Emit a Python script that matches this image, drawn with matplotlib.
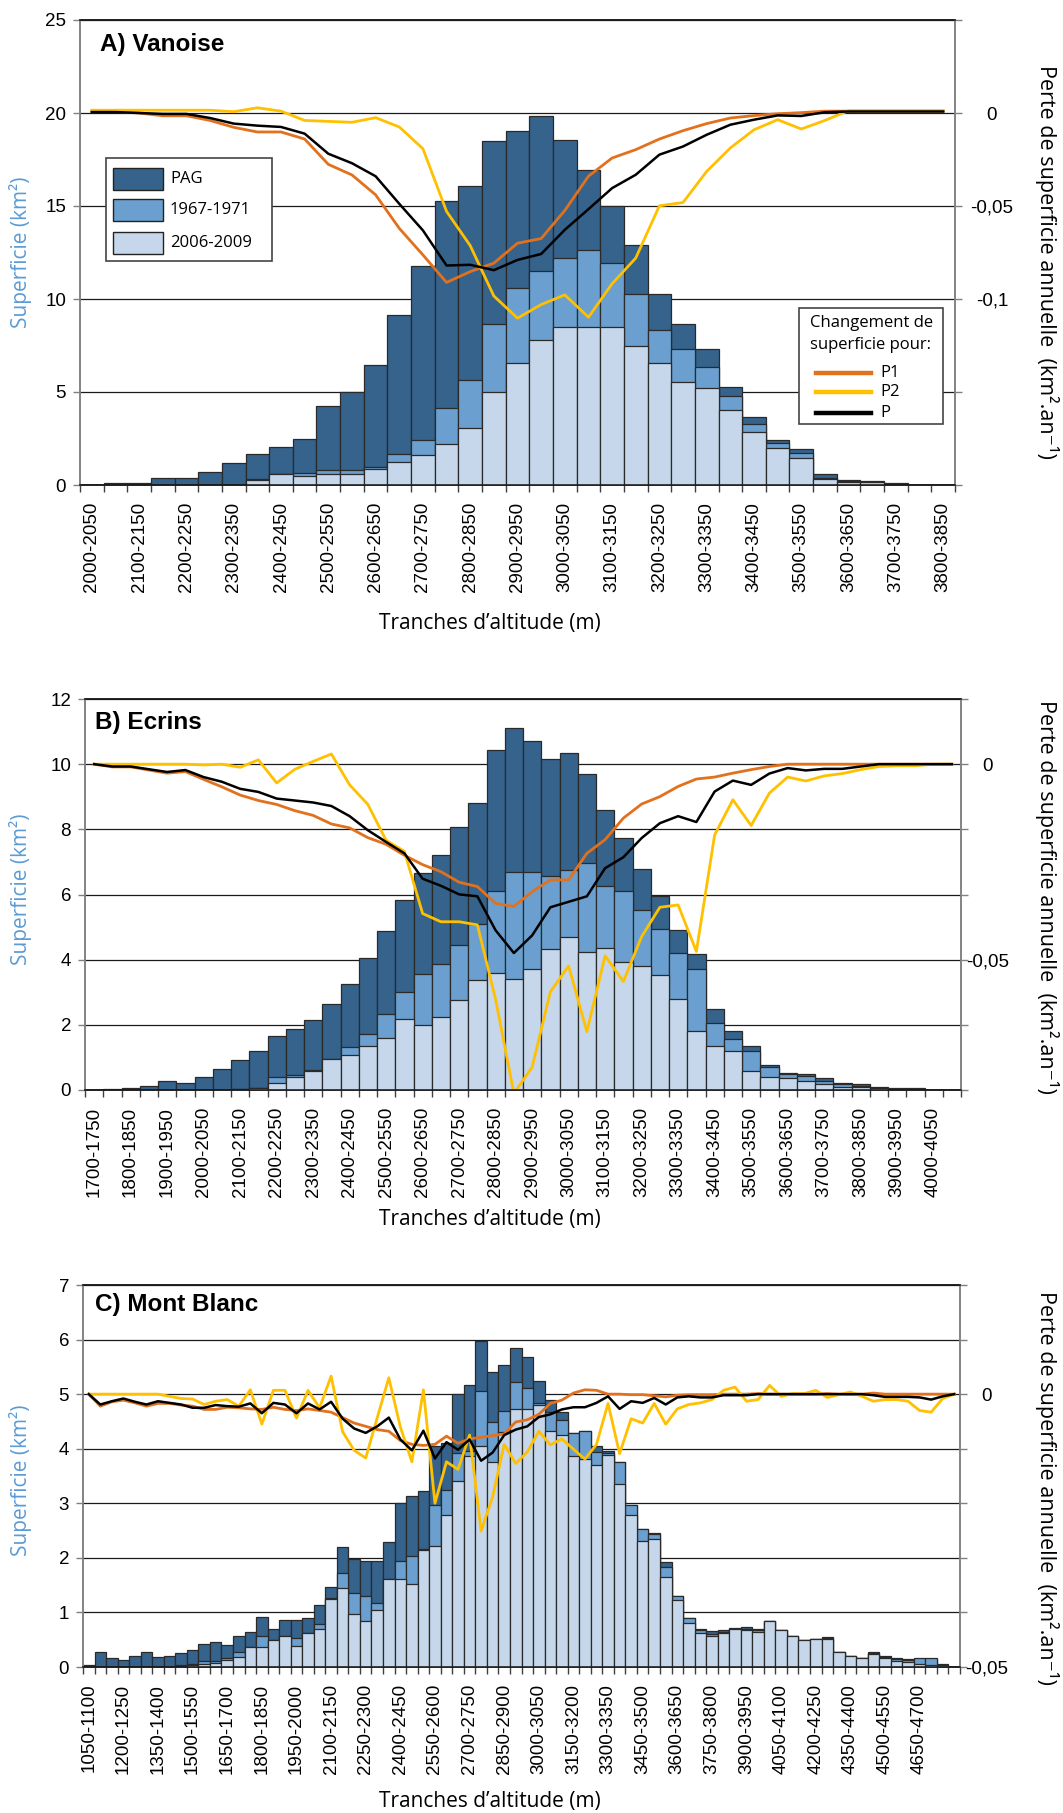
import numpy as np
import matplotlib
matplotlib.use("Agg")
import matplotlib.pyplot as plt
from matplotlib.patches import Rectangle
from matplotlib.lines import Line2D

plt.rcParams['font.family'] = ['Liberation Sans', 'DejaVu Sans']

# ---------------- categories (50 m altitude bands) ----------------
CAT_A = [f"{a}-{a + 50}" for a in range(2000, 3850, 50)]   # 37 bands
CAT_B = [f"{a}-{a + 50}" for a in range(1700, 4100, 50)]   # 48 bands
CAT_C = [f"{a}-{a + 50}" for a in range(1050, 4850, 50)]   # 76 bands

# ---------------- A) Vanoise : glacier area (km2) ----------------
PAG_A = [0, 0.1, 0.1, 0.4, 0.4, 0.7, 1.17, 1.65, 2.03, 2.49, 4.23, 5.0, 6.44, 9.15, 11.75, 15.28, 16.05,
         18.48, 19.05, 19.82, 18.57, 16.91, 15.0, 12.9, 10.28, 8.66, 7.3, 5.29, 3.64, 2.4, 1.92, 0.57,
         0.27, 0.22, 0.1, 0, 0]
MID_A = [0, 0, 0, 0, 0, 0, 0, 0.3, 0.6, 0.66, 0.79, 0.79, 0.95, 1.65, 2.4, 4.13, 5.67, 8.66, 10.58,
         11.53, 12.2, 12.61, 11.93, 10.28, 8.36, 7.3, 6.33, 4.81, 3.26, 2.24, 1.74, 0.4, 0.22, 0.18,
         0.08, 0, 0]
LIGHT_A = [0, 0, 0, 0, 0, 0, 0, 0.27, 0.57, 0.48, 0.57, 0.57, 0.86, 1.24, 1.61, 2.2, 3.07, 5.0, 6.55,
           7.78, 8.52, 8.52, 8.52, 7.5, 6.55, 5.56, 5.2, 4.04, 2.87, 2.0, 1.43, 0.34, 0.16, 0.15, 0.06,
           0, 0]
# annual area loss (km2.an-1)
P1_A = [0.0008, 0.0008, 0.0, -0.0015, -0.0015, -0.004, -0.0077, -0.0102, -0.0102, -0.014,
        -0.0276, -0.0333, -0.044, -0.062, -0.0763, -0.0911, -0.0853, -0.0807, -0.07, -0.0675,
        -0.0524, -0.034, -0.0242, -0.0197, -0.014, -0.0095, -0.0057, -0.0027, -0.0014, -0.0004,
        0.0002, 0.001, 0.001, 0.001, 0.001, 0.001, 0.001]
P2_A = [0.0015, 0.0015, 0.0015, 0.0015, 0.0015, 0.0015, 0.0007, 0.0028, 0.001, -0.004,
        -0.0045, -0.005, -0.0025, -0.0075, -0.0192, -0.0529, -0.0713, -0.0984, -0.1103, -0.103,
        -0.0978, -0.1098, -0.0918, -0.078, -0.0499, -0.0481, -0.0314, -0.0188, -0.009, -0.0036,
        -0.0086, -0.004, 0.0013, 0.0013, 0.0013, 0.0013, 0.0013]
P_A = [0.0005, 0.0005, 0, -0.0005, -0.0005, -0.0027, -0.0057, -0.0068, -0.0075, -0.0111,
       -0.0219, -0.027, -0.034, -0.0488, -0.0631, -0.082, -0.0816, -0.0845, -0.079, -0.0758,
       -0.0628, -0.0517, -0.0404, -0.0332, -0.0224, -0.018, -0.0117, -0.0063, -0.0036, -0.0013,
       -0.0016, 0.0004, 0.0008, 0.0008, 0.0008, 0.0008, 0.0008]

# ---------------- B) Ecrins ----------------
PAG_B = [0, 0.03, 0.05, 0.13, 0.28, 0.23, 0.41, 0.64, 0.93, 1.19,
         1.65, 1.88, 2.16, 2.65, 3.26, 4.04, 4.88, 5.83, 6.66, 7.22,
         8.08, 8.82, 10.43, 11.11, 10.7, 10.16, 10.34, 9.7, 8.6, 7.73,
         6.78, 5.94, 4.91, 4.17, 2.48, 1.82, 1.36, 0.77, 0.53, 0.49,
         0.36, 0.23, 0.17, 0.1, 0.05, 0.05, 0, 0]
MID_B = [0, 0, 0, 0, 0, 0, 0, 0, 0.02, 0.07,
         0.41, 0.46, 0.62, 0.95, 1.32, 1.73, 2.33, 3.01, 3.57, 3.88,
         4.44, 5.09, 6.11, 6.7, 6.7, 6.58, 6.76, 6.96, 6.27, 6.12,
         5.53, 4.93, 4.2, 3.71, 2.07, 1.56, 1.2, 0.72, 0.48, 0.44,
         0.29, 0.17, 0.13, 0.07, 0.03, 0.03, 0, 0]
LIGHT_B = [0, 0, 0, 0, 0, 0, 0, 0, 0.02, 0.07,
           0.21, 0.39, 0.58, 0.95, 1.08, 1.36, 1.59, 2.19, 2.0, 2.23,
           2.75, 3.39, 3.59, 3.42, 3.7, 4.34, 4.71, 4.25, 4.35, 3.94,
           3.81, 3.53, 2.78, 1.82, 1.36, 1.2, 0.59, 0.41, 0.36, 0.28,
           0.17, 0.1, 0.08, 0.05, 0.02, 0.02, 0, 0]
P1_B = [0, -0.0007, -0.0007, -0.0015, -0.0023, -0.0019, -0.0039, -0.0058, -0.0079, -0.0093,
        -0.0103, -0.0119, -0.0131, -0.0153, -0.0163, -0.0188, -0.0205, -0.0233, -0.0257, -0.0275,
        -0.0302, -0.0313, -0.0356, -0.0364, -0.0326, -0.0296, -0.0296, -0.0228, -0.0193, -0.0138,
        -0.0102, -0.0083, -0.0057, -0.0038, -0.0033, -0.0023, -0.0014, -0.0006, 0, 0,
        0, 0, 0, 0, 0, 0, 0, 0]
P2_B = [0, 0, 0, 0, 0, 0, -0.0002, 0, -0.0008, 0.0011,
        -0.0048, -0.0013, 0.0007, 0.0026, -0.0053, -0.0103, -0.0195, -0.0223, -0.0382, -0.0403,
        -0.0403, -0.0411, -0.0602, -0.0842, -0.0775, -0.0582, -0.0516, -0.0684, -0.049, -0.0556,
        -0.0441, -0.0366, -0.036, -0.0479, -0.0181, -0.0091, -0.0157, -0.0074, -0.0033, -0.0043,
        -0.003, -0.0024, -0.0014, -0.0006, -0.0004, -0.0004, 0, 0]
P_B = [0, -0.0006, -0.0006, -0.0013, -0.002, -0.0015, -0.0033, -0.0045, -0.0063, -0.0071,
       -0.0088, -0.0093, -0.0098, -0.0107, -0.0133, -0.0169, -0.0199, -0.0228, -0.0293, -0.0311,
       -0.0333, -0.0338, -0.0425, -0.0483, -0.0438, -0.0366, -0.0352, -0.0338, -0.0266, -0.0238,
       -0.0189, -0.0151, -0.0133, -0.0148, -0.007, -0.0042, -0.0053, -0.0024, -0.001, -0.0016,
       -0.0012, -0.0012, -0.0006, 0, 0, 0, 0, 0]

# ---------------- C) Mont Blanc ----------------
PAG_C = [0.03, 0.27, 0.16, 0.13, 0.21, 0.27, 0.18, 0.21, 0.26, 0.32,
         0.43, 0.46, 0.41, 0.57, 0.65, 0.92, 0.70, 0.87, 0.87, 0.90,
         1.14, 1.47, 2.19, 1.97, 1.94, 1.94, 2.29, 3.00, 3.13, 3.23,
         4.05, 4.10, 5.01, 5.16, 5.98, 5.41, 5.54, 5.85, 5.68, 5.25,
         4.90, 4.67, 4.28, 4.33, 4.05, 3.95, 3.76, 2.96, 2.52, 2.46,
         1.92, 1.30, 0.90, 0.70, 0.66, 0.68, 0.71, 0.73, 0.70, 0.84,
         0.68, 0.57, 0.49, 0.52, 0.55, 0.27, 0.20, 0.17, 0.27, 0.20,
         0.16, 0.14, 0.15, 0.15, 0.06, 0.0]
MID_C = [0, 0, 0, 0, 0, 0, 0, 0, 0.03, 0.06,
         0.11, 0.11, 0.17, 0.27, 0.37, 0.56, 0.49, 0.56, 0.54, 0.62,
         0.79, 1.26, 1.72, 1.36, 1.30, 1.17, 1.62, 1.94, 2.03, 2.16,
         2.97, 3.24, 3.92, 3.96, 5.06, 4.49, 4.70, 5.22, 5.11, 4.83,
         4.67, 4.53, 4.28, 4.33, 3.94, 3.92, 3.76, 2.96, 2.52, 2.43,
         1.84, 1.30, 0.90, 0.67, 0.61, 0.64, 0.70, 0.70, 0.67, 0.84,
         0.68, 0.57, 0.49, 0.52, 0.53, 0.27, 0.20, 0.17, 0.25, 0.18,
         0.14, 0.12, 0.16, 0.16, 0.03, 0.0]
LIGHT_C = [0, 0, 0, 0, 0, 0, 0, 0, 0.02, 0.04,
           0.06, 0.07, 0.13, 0.18, 0.37, 0.37, 0.49, 0.56, 0.38, 0.62,
           0.70, 1.24, 1.45, 0.98, 0.84, 1.05, 1.62, 1.62, 1.53, 2.15,
           2.21, 2.78, 3.41, 3.86, 4.05, 3.76, 4.30, 4.73, 4.73, 4.81,
           4.33, 4.25, 3.87, 3.81, 3.71, 3.89, 3.35, 2.79, 2.30, 2.35,
           1.65, 1.22, 0.81, 0.62, 0.57, 0.62, 0.70, 0.68, 0.65, 0.84,
           0.68, 0.57, 0.49, 0.52, 0.52, 0.27, 0.20, 0.17, 0.24, 0.17,
           0.11, 0.10, 0.06, 0.03, 0.0, 0.0]
P1_C = [0, -0.0022, -0.0014, -0.0011, -0.0016, -0.0022, -0.0017, -0.0017, -0.002, -0.0022,
        -0.0028, -0.0028, -0.0024, -0.0025, -0.0027, -0.0028, -0.0024, -0.0028, -0.003, -0.0027,
        -0.003, -0.0033, -0.0043, -0.0053, -0.0059, -0.0065, -0.0068, -0.0085, -0.0092, -0.0094,
        -0.0092, -0.0077, -0.009, -0.0082, -0.0079, -0.0076, -0.0073, -0.0051, -0.0047, -0.0037,
        -0.0017, -0.0011, 0.0002, 0.0008, 0.0007, 0, 0, -0.0001, -0.0001, -0.0003,
        -0.0005, -0.0002, -0.0001, -0.0001, -0.0001, 0, 0, 0, 0.0001, 0,
        0, 0, 0, 0, 0.0001, 0, 0, 0, 0.0002, 0,
        0, 0, 0, 0, 0, 0]
P2_C = [0, 0, 0, 0, 0, 0, 0, -0.0004, -0.0008, -0.0009,
        -0.0019, -0.0013, -0.001, -0.0022, 0.0008, -0.0055, 0.0007, 0.0007, -0.0044, 0.0007,
        -0.0025, 0.0033, -0.0069, -0.0103, -0.0117, -0.0043, 0.003, -0.006, -0.0124, 0.0008,
        -0.02, -0.0124, -0.0138, -0.0075, -0.0251, -0.0188, -0.0092, -0.0127, -0.0106, -0.0068,
        -0.0093, -0.0082, -0.0101, -0.0119, -0.0092, -0.0017, -0.0109, -0.0045, -0.0053, -0.0017,
        -0.0055, -0.0027, -0.0019, -0.0016, -0.001, 0.0007, 0.0013, -0.0013, -0.001, 0.0016,
        -0.0004, 0.0001, 0.0001, 0.0007, -0.0006, -0.0001, 0.0004, -0.0004, -0.0013, -0.001,
        -0.001, -0.0013, -0.003, -0.0033, -0.0008, 0]
P_C = [0, -0.0019, -0.0013, -0.0008, -0.0014, -0.0019, -0.0013, -0.0016, -0.0019, -0.0025,
       -0.0025, -0.002, -0.0022, -0.0023, -0.0017, -0.0035, -0.0016, -0.0019, -0.0035, -0.0017,
       -0.0028, -0.0014, -0.0045, -0.0063, -0.0071, -0.0059, -0.0043, -0.0083, -0.0103, -0.0067,
       -0.0118, -0.0088, -0.0102, -0.0083, -0.0122, -0.0107, -0.0075, -0.0065, -0.0059, -0.0042,
       -0.0037, -0.0028, -0.0024, -0.0024, -0.0016, -0.0004, -0.0027, -0.0013, -0.0016, -0.0007,
       -0.0019, -0.0006, -0.0004, -0.0006, -0.0006, -0.0002, -0.0002, -0.0002, 0, 0,
       0, 0, 0, 0, 0, 0, 0, 0, -0.0002, -0.0005,
       -0.0005, -0.0005, -0.0006, -0.001, -0.0004, 0]

# ---------------- styling ----------------
W, H = 1063, 1813
C_PAG = '#35638C'
C_MID = '#6A9FD0'
C_LIGHT = '#C6D7EB'
C_P1 = '#E2711D'
C_P2 = '#FFC000'
C_P = '#000000'
C_LBL = '#5B9BD5'
EDGE = '#2a2a2a'
SANS2 = ['Open Sans', 'DejaVu Sans']

fig = plt.figure(figsize=(W / 100, H / 100), dpi=100)


def draw_panel(box, cats, pag, mid, light, p1, p2, p, ymax, ystep, rlim, rticks, rlabels,
               last_lab, lab_step, right_center):
    l, t, r, b = box
    ax = fig.add_axes([l / W, 1 - b / H, (r - l) / W, (b - t) / H])
    n = len(cats)
    x = np.arange(n)
    for vals, col, z in ((pag, C_PAG, 2), (mid, C_MID, 3), (light, C_LIGHT, 4)):
        ax.bar(x, vals, width=1.0, color=col, edgecolor=EDGE, linewidth=0.9, zorder=z)
    ax.set_xlim(-0.5, n - 0.5)
    ax.set_ylim(0, ymax)
    ax.set_yticks(np.arange(0, ymax + 0.001, ystep))
    ax.yaxis.grid(True, color='#1a1a1a', linewidth=0.9)
    ax.set_axisbelow(True)
    idx = list(range(0, last_lab + 1, lab_step))
    ax.set_xticks(idx)
    ax.set_xticklabels([cats[i] for i in idx], rotation=90, fontsize=13.5)
    ax.set_xticks(np.arange(-0.5, n, 1), minor=True)
    ax.tick_params(axis='x', which='major', length=0, pad=12)
    ax.tick_params(axis='x', which='minor', length=5, width=1, color='#404040')
    ax.tick_params(axis='y', length=5, width=1, color='#808080', labelsize=13.5, pad=5)

    ax2 = ax.twinx()
    ax2.set_ylim(*rlim)
    ax2.plot(x, p1, color=C_P1, lw=2.0, solid_joinstyle='round')
    ax2.plot(x, p2, color=C_P2, lw=2.0, solid_joinstyle='round')
    ax2.plot(x, p, color=C_P, lw=1.8, solid_joinstyle='round')
    ax2.set_yticks(rticks)
    ax2.set_yticklabels(rlabels)
    pad_pt = (right_center - r - 7) * 0.72
    ax2.tick_params(axis='y', length=5, width=1, color='#808080', labelsize=13.5, pad=pad_pt)
    for lab in ax2.get_yticklabels():
        lab.set_horizontalalignment('center')
    for a in (ax, ax2):
        a.spines['left'].set_color('#808080')
        a.spines['right'].set_color('#808080')
        a.spines['top'].set_color('#1a1a1a')
        a.spines['bottom'].set_color('#1a1a1a')
        for s in a.spines.values():
            s.set_linewidth(1.1)
    return ax, ax2


# A) Vanoise
draw_panel((80, 20, 955, 485), CAT_A, PAG_A, MID_A, LIGHT_A, P1_A, P2_A, P_A,
           25, 5, (-0.2, 0.05), [-0.2, -0.15, -0.1, -0.05, 0, 0.05],
           ['', '', '-0,1', '-0,05', '0', ''], 36, 2, 992)
# B) Ecrins
draw_panel((85, 699, 961, 1090), CAT_B, PAG_B, MID_B, LIGHT_B, P1_B, P2_B, P_B,
           12, 2, (-0.08333333, 0.01666667),
           [-0.08333333, -0.06666667, -0.05, -0.03333333, -0.01666667, 0, 0.01666667],
           ['', '', '-0,05', '', '', '0', ''], 46, 2, 988)
# C) Mont Blanc
draw_panel((83, 1285, 960, 1667), CAT_C, PAG_C, MID_C, LIGHT_C, P1_C, P2_C, P_C,
           7, 1, (-0.05, 0.02), [-0.05, -0.04, -0.03, -0.02, -0.01, 0, 0.01, 0.02],
           ['-0,05', '', '', '', '', '0', '', ''], 72, 3, 987)

# ---------------- overlay (texts and legends, pixel coordinates) ----------------
ov = fig.add_axes([0, 0, 1, 1], zorder=10)
ov.set_xlim(0, W)
ov.set_ylim(H, 0)
ov.axis('off')

for (tx, ty, s) in ((100, 33, 'A) Vanoise'), (95, 711, 'B) Ecrins'), (95, 1293, 'C) Mont Blanc')):
    ov.text(tx, ty, s, fontsize=17.5, fontweight='bold', va='top', ha='left',
            family=['Liberation Sans', 'DejaVu Sans'])

for cy in (252, 889, 1480):
    ov.text(21, cy, 'Superficie (km²)', rotation=90, ha='center', va='center',
            color=C_LBL, fontsize=15, family=SANS2)
for cy in (262, 897, 1488):
    ov.text(1047, cy, 'Perte de superficie annuelle  (km².an⁻¹)', rotation=-90,
            ha='center', va='center', fontsize=15.5, family=SANS2)
for cy in (624, 1220, 1801):
    ov.text(490, cy, 'Tranches d’altitude (m)', ha='center', va='center',
            fontsize=15, family=SANS2)

# legend 1 (bars)
ov.add_patch(Rectangle((106, 158), 166, 103, facecolor='white', edgecolor='#444444', lw=1.2))
for (yy, col, lab) in ((168, C_PAG, 'PAG'), (199, C_MID, '1967-1971'), (232, C_LIGHT, '2006-2009')):
    ov.add_patch(Rectangle((113, yy), 50, 22, facecolor=col, edgecolor='#222222', lw=1.0))
    ov.text(170, yy + 11, lab, va='center', ha='left', fontsize=12, family=SANS2)

# legend 2 (lines)
ov.add_patch(Rectangle((799, 308), 144, 116, facecolor='white', edgecolor='#444444', lw=1.2))
ov.text(810, 323, 'Changement de', va='center', ha='left', fontsize=12, family=SANS2)
ov.text(810, 345, 'superficie pour:', va='center', ha='left', fontsize=12, family=SANS2)
for (yy, col, lab) in ((373, C_P1, 'P1'), (392, C_P2, 'P2'), (413, C_P, 'P')):
    ov.add_line(Line2D([816, 871], [yy, yy], color=col, lw=3.2))
    ov.text(880, yy, lab, va='center', ha='left', fontsize=12, family=SANS2)

fig.savefig('out.png', dpi=100)
